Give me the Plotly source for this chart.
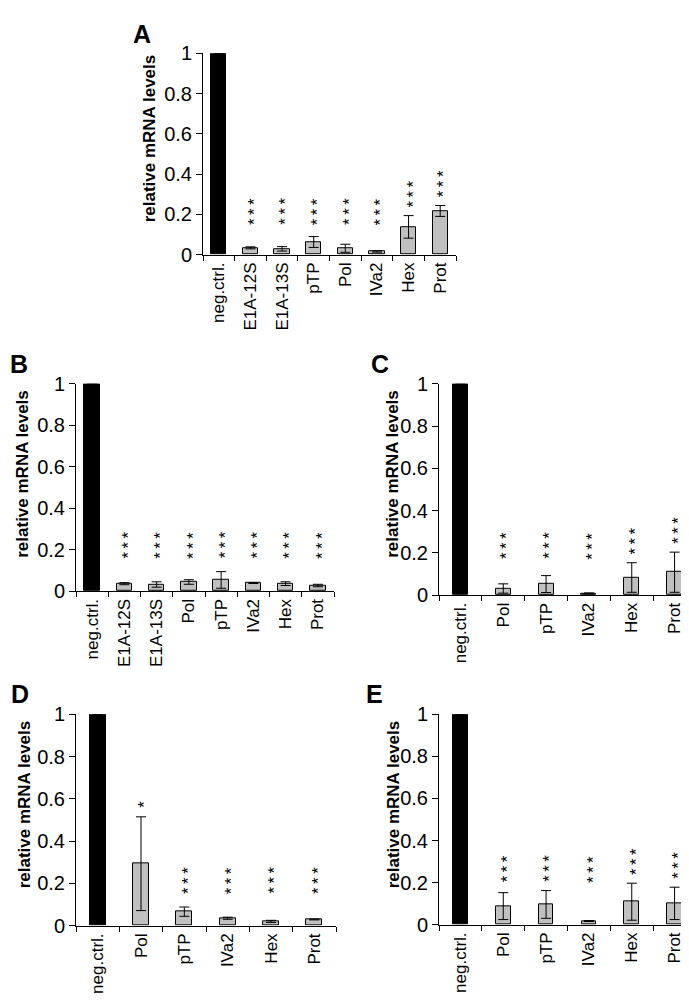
import plotly.graph_objects as go

W, H = 689, 1000
FONT = "Liberation Sans, Arial, sans-serif"

# ---------------- data ----------------
A_cats = ["neg.ctrl.", "E1A-12S", "E1A-13S", "pTP", "Pol", "IVa2", "Hex", "Prot"]
A_vals = [1.0, 0.034, 0.029, 0.063, 0.032, 0.016, 0.138, 0.217]
A_errs = [0.0, 0.005, 0.011, 0.027, 0.020, 0.003, 0.056, 0.027]
A_sig = ["", "***", "***", "***", "***", "***", "***", "***"]

B_cats = ["neg.ctrl.", "E1A-12S", "E1A-13S", "Pol", "pTP", "IVa2", "Hex", "Prot"]
B_vals = [1.0, 0.036, 0.032, 0.044, 0.054, 0.039, 0.036, 0.027]
B_errs = [0.0, 0.005, 0.013, 0.011, 0.040, 0.002, 0.009, 0.006]
B_sig = ["", "***", "***", "***", "***", "***", "***", "***"]

C_cats = ["neg.ctrl.", "Pol", "pTP", "IVa2", "Hex", "Prot"]
C_vals = [1.0, 0.031, 0.052, 0.008, 0.083, 0.108]
C_errs = [0.0, 0.022, 0.040, 0.002, 0.070, 0.095]
C_sig = ["", "***", "***", "***", "***", "***"]

D_cats = ["neg.ctrl.", "Pol", "pTP", "IVa2", "Hex", "Prot"]
D_vals = [1.0, 0.293, 0.066, 0.035, 0.020, 0.029]
D_errs = [0.0, 0.222, 0.022, 0.005, 0.005, 0.002]
D_sig = ["", "*", "***", "***", "***", "***"]

E_cats = ["neg.ctrl.", "Pol", "pTP", "IVa2", "Hex", "Prot"]
E_vals = [1.0, 0.088, 0.096, 0.017, 0.109, 0.101]
E_errs = [0.0, 0.064, 0.066, 0.002, 0.088, 0.077]
E_sig = ["", "***", "***", "***", "***", "***"]

Y_TICKS = [0, 0.2, 0.4, 0.6, 0.8, 1]
Y_TICKTEXT = ["0", "0.2", "0.4", "0.6", "0.8", "1"]
Y_TITLE = "relative mRNA levels"

# ---------------- layout geometry (pixels) ----------------
panels = [
    dict(letter="A", cats=A_cats, vals=A_vals, errs=A_errs, sig=A_sig,
         x0=195, x1=448, ybot=241, ytop=35, bw=0.48, floor=0.152,
         title_xy=(141, 122), letter_xy=(134, 15)),
    dict(letter="B", cats=B_cats, vals=B_vals, errs=B_errs, sig=B_sig,
         x0=68, x1=326, ybot=585, ytop=373, bw=0.48, floor=0.161,
         title_xy=(15, 465), letter_xy=(11, 353)),
    dict(letter="C", cats=C_cats, vals=C_vals, errs=C_errs, sig=C_sig,
         x0=431, x1=688, ybot=589, ytop=373, bw=0.35, floor=0.174,
         title_xy=(385, 465), letter_xy=(372, 353)),
    dict(letter="D", cats=D_cats, vals=D_vals, errs=D_errs, sig=D_sig,
         x0=68, x1=328, ybot=927, ytop=711, bw=0.37, floor=0.154,
         title_xy=(16, 803), letter_xy=(12, 690)),
    dict(letter="E", cats=E_cats, vals=E_vals, errs=E_errs, sig=E_sig,
         x0=431, x1=688, ybot=926, ytop=711, bw=0.34, floor=0.205,
         title_xy=(385, 803), letter_xy=(366, 690)),
]

STAR_FONT = 17  # asterisks are set as one vertical (rotated) run per bar

fig = go.Figure()
annotations = []
layout = dict(
    width=W, height=H, margin=dict(l=0, r=0, t=0, b=0),
    paper_bgcolor="white", plot_bgcolor="white", showlegend=False,
    font=dict(family=FONT, color="black"),
    bargap=0,
)

for i, p in enumerate(panels, start=1):
    xa = "x" if i == 1 else f"x{i}"
    ya = "y" if i == 1 else f"y{i}"
    colors = ["black"] + ["#c0c0c0"] * (len(p["cats"]) - 1)
    fig.add_trace(go.Bar(
        x=p["cats"], y=p["vals"], xaxis=xa, yaxis=ya, width=p["bw"],
        marker=dict(color=colors, line=dict(color="black", width=1)),
        error_y=dict(type="data", array=p["errs"], visible=True,
                     color="black", thickness=1, width=5),
        hoverinfo="skip",
    ))
    n = len(p["cats"])
    layout["xaxis" if i == 1 else f"xaxis{i}"] = dict(
        domain=[p["x0"] / W, p["x1"] / W], anchor=ya, type="category",
        range=[-0.5, n - 0.5], showline=True, linecolor="black", linewidth=1,
        ticks="outside", tickson="boundaries", ticklen=5, tickcolor="black",
        tickwidth=1, tickangle=-90, tickfont=dict(size=17, family=FONT),
        showgrid=False, zeroline=False, fixedrange=True,
    )
    layout["yaxis" if i == 1 else f"yaxis{i}"] = dict(
        domain=[(H - p["ybot"]) / H, (H - p["ytop"]) / H], anchor=xa,
        range=[0, 1], tickvals=Y_TICKS, ticktext=Y_TICKTEXT,
        showline=True, linecolor="black", linewidth=1, ticks="outside",
        ticklen=6, tickcolor="black", tickwidth=1,
        tickfont=dict(size=20, family=FONT),
        showgrid=False, zeroline=False, fixedrange=True,
    )
    # significance stars, stacked vertically above each bar
    for c, v, e, s in zip(p["cats"], p["vals"], p["errs"], p["sig"]):
        if not s:
            continue
        base = max(p["floor"], v + e + 0.045)
        annotations.append(dict(
            xref=xa, yref=ya, x=c, y=base, yshift=-3, xshift=4,
            text="\u2009".join(s), textangle=-90, showarrow=False,
            font=dict(size=STAR_FONT, family=FONT),
            xanchor="center", yanchor="bottom",
        ))
    # y title
    tx, ty = p["title_xy"]
    annotations.append(dict(
        xref="paper", yref="paper", x=tx / W, y=(H - ty) / H,
        text=f"<b>{Y_TITLE}</b>", textangle=-90, showarrow=False,
        font=dict(size=17, family=FONT), xanchor="center", yanchor="middle",
    ))
    lx, ly = p["letter_xy"]
    annotations.append(dict(
        xref="paper", yref="paper", x=lx / W, y=(H - ly) / H,
        text=f"<b>{p['letter']}</b>", showarrow=False,
        font=dict(size=25, family=FONT), xanchor="center", yanchor="middle",
    ))

layout["annotations"] = annotations
fig.update_layout(**layout)
fig.write_html("out.html")
